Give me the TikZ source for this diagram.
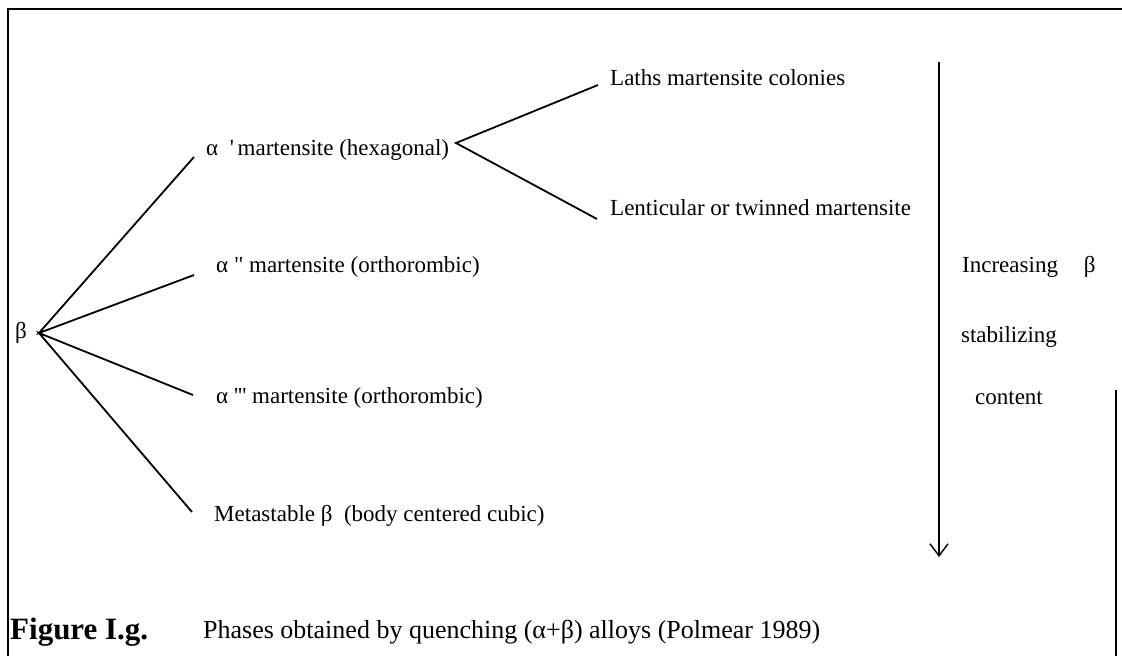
\documentclass[tikz,border=0pt]{standalone}
\usepackage{fontspec}
\setmainfont{Liberation Serif}
\usetikzlibrary{arrows.meta}
\tikzset{lbl/.style={anchor=west,inner sep=0pt,font=\fontsize{23}{27}\selectfont},
  captxt/.style={anchor=west,inner sep=0pt,font=\fontsize{26}{31}\selectfont},
  br/.style={line width=1.8pt}}
\begin{document}
\begin{tikzpicture}[x=1pt,y=-1pt]
\useasboundingbox(0,0)rectangle(1122,656);
\draw[line width=1.5pt](8,656)--(8,9)--(1122,9);
\draw[line width=1.2pt](1116,390)--(1116,656);
\node[lbl](b)at(15,333){β};
\coordinate(v)at(39,333);
\node[lbl](a1)at(206,150){α\ \ \textquotesingle\,martensite (hexagonal)};
\node[lbl](a2)at(216,267){α \textquotedbl\ martensite (orthorombic)};
\node[lbl](a3)at(216,398){α \textquotesingle\textquotesingle\textquotesingle\ martensite (orthorombic)};
\node[lbl](ms)at(214,516){Metastable β\ \ (body centered cubic)};
\node[lbl](la)at(610,78){Laths martensite colonies};
\node[lbl](le)at(610,208){Lenticular or twinned martensite};
\coordinate(e1)at(194,157);
\coordinate(e2)at(194,275);
\coordinate(e3)at(193,395);
\coordinate(e4)at(192,512);
\draw[br](e1)--(v)--(e2);
\draw[br](e3)--(v)--(e4);
\coordinate(w)at(456,143);
\coordinate(f1)at(598,85);
\coordinate(f2)at(597,219);
\draw[br](f1)--(w)--(f2);
% beta content arrow
\coordinate(t0)at(939,62);
\coordinate(t1)at(939,557);
\draw[line width=1.2pt,-{Straight Barb[length=12pt,width=18pt,line width=1.4pt]}](t0)--(t1);
\node[lbl](inc)at(962,267){Increasing\hspace{26pt}β};
\node[lbl,anchor=center](stb)at(1009,337){stabilizing};
\node[lbl,anchor=center](cnt)at(1009,398){content};
\node[captxt,font=\fontsize{31}{36}\selectfont\bfseries](fig)at(10,632){Figure I.g.};
\node[captxt](ttl)at(203,632){Phases obtained by quenching (α+β) alloys (Polmear 1989)};
\end{tikzpicture}
\end{document}
